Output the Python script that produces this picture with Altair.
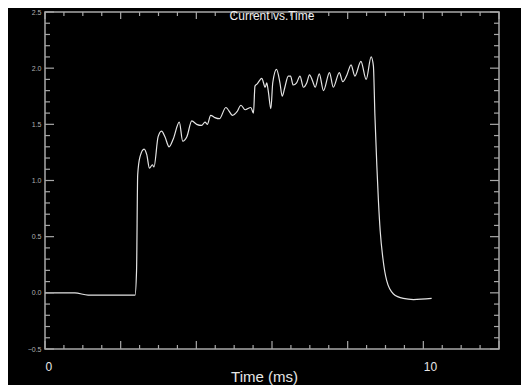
import altair as alt
import pandas as pd

# ---- data ----
time_ms = [0.00, 0.79, 1.14, 2.38, 2.42, 2.45, 2.51, 2.62, 2.69, 2.76, 2.84, 2.88,
           2.99, 3.08, 3.17, 3.28, 3.39, 3.55, 3.64, 3.75, 3.88, 4.01, 4.14, 4.23,
           4.29, 4.38, 4.49, 4.61, 4.78, 4.96, 5.07, 5.18, 5.29, 5.44, 5.51, 5.55,
           5.61, 5.73, 5.82, 5.86, 5.90, 5.97, 6.02, 6.12, 6.21, 6.27, 6.34, 6.43,
           6.49, 6.56, 6.65, 6.74, 6.83, 6.92, 6.99, 7.08, 7.14, 7.25, 7.36, 7.52,
           7.62, 7.78, 7.87, 7.98, 8.09, 8.19, 8.35, 8.49, 8.62, 8.68, 8.72, 8.77,
           8.81, 8.86, 8.93, 9.03, 9.21, 9.47, 9.74, 10.22]
current = [0.00, 0.00, -0.02, -0.02, 0.20, 1.05, 1.21, 1.28, 1.23, 1.11, 1.14, 1.12,
           1.39, 1.44, 1.39, 1.30, 1.37, 1.52, 1.35, 1.39, 1.53, 1.50, 1.49, 1.52,
           1.50, 1.58, 1.56, 1.55, 1.65, 1.58, 1.61, 1.67, 1.63, 1.65, 1.60, 1.84,
           1.86, 1.91, 1.83, 1.87, 1.80, 1.64, 1.87, 1.99, 1.87, 1.75, 1.83, 1.93,
           1.93, 1.85, 1.87, 1.93, 1.83, 1.87, 1.94, 1.88, 1.83, 1.95, 1.80, 1.96,
           1.83, 1.96, 1.88, 1.94, 2.03, 1.93, 2.06, 1.90, 2.10, 2.02, 1.58, 1.14,
           0.84, 0.55, 0.31, 0.11, -0.01, -0.05, -0.06, -0.05]

title_text = "Current vs.Time"
x_title = "Time (ms)"
x_labels = [0, 10]
y_labels = [-0.5, 0.0, 0.5, 1.0, 1.5, 2.0, 2.5]
x_major = [0, 2, 4, 6, 8, 10, 12]
x_minor = [v / 2 for v in range(0, 25) if v % 4 != 0]
y_major = y_labels
y_minor = [round(-0.5 + i / 10, 1) for i in range(31) if i % 5 != 0]

W, H = 454, 337
AX = "#a8a8a8"
xs = alt.Scale(domain=[0, 12], nice=False, zero=False)
ys = alt.Scale(domain=[-0.5, 2.5], nice=False, zero=False)

df = pd.DataFrame({"t": time_ms, "i": current})

line = alt.Chart(df).mark_line(color="#e4e4e4", strokeWidth=1.2, interpolate="monotone", clip=True).encode(
    x=alt.X("t:Q", scale=xs,
            axis=alt.Axis(values=x_labels, format="d", ticks=False, tickSize=0, domain=False, grid=False,
                          labelColor="#e6e6e6", labelFontSize=12, labelFont="Liberation Sans",
                          labelPadding=12, labelAlign="left",
                          title=x_title, titleColor="#e6e6e6", titleFontSize=15,
                          titleFont="Liberation Sans", titleFontWeight="normal",
                          titleX=219, titleY=27, titleBaseline="middle", titleAlign="center")),
    y=alt.Y("i:Q", scale=ys,
            axis=alt.Axis(values=y_labels, format=".1f", ticks=False, tickSize=0, domain=False, grid=False,
                          labelColor="#b0b0b0", labelFontSize=7, labelFont="Liberation Sans",
                          labelPadding=4, title=None)),
)

def yticks(vals, x0, x1):
    return alt.Chart(pd.DataFrame({"v": vals})).mark_rule(color=AX, strokeWidth=1.2).encode(
        y=alt.Y("v:Q", scale=ys), x=alt.value(x0), x2=alt.value(x1))

def xticks(vals, y0, y1):
    return alt.Chart(pd.DataFrame({"v": vals})).mark_rule(color=AX, strokeWidth=1.2).encode(
        x=alt.X("v:Q", scale=xs), y=alt.value(y0), y2=alt.value(y1))

ticks = [
    yticks(y_major, 0, 9), yticks(y_minor, 0, 5),
    yticks(y_major, W - 9, W), yticks(y_minor, W - 5, W),
    xticks(x_major, H, H - 8), xticks(x_minor, H, H - 4),
    xticks(x_major, 0, 7), xticks(x_minor, 0, 4),
]

chart = alt.layer(line, *ticks).properties(
    width=W, height=H,
    title=alt.TitleParams(title_text, fontSize=12, color="#f0f0f0", font="Liberation Sans",
                          fontWeight="normal", anchor="middle", offset=-15),
    background="black",
    padding={"left": 37, "top": 4, "right": 22, "bottom": 36},
    autosize=alt.AutoSizeParams(type="none"),
).configure_view(stroke=AX, strokeWidth=1.5)

chart.save("out.html", embed_options={"renderer": "svg", "actions": False})
